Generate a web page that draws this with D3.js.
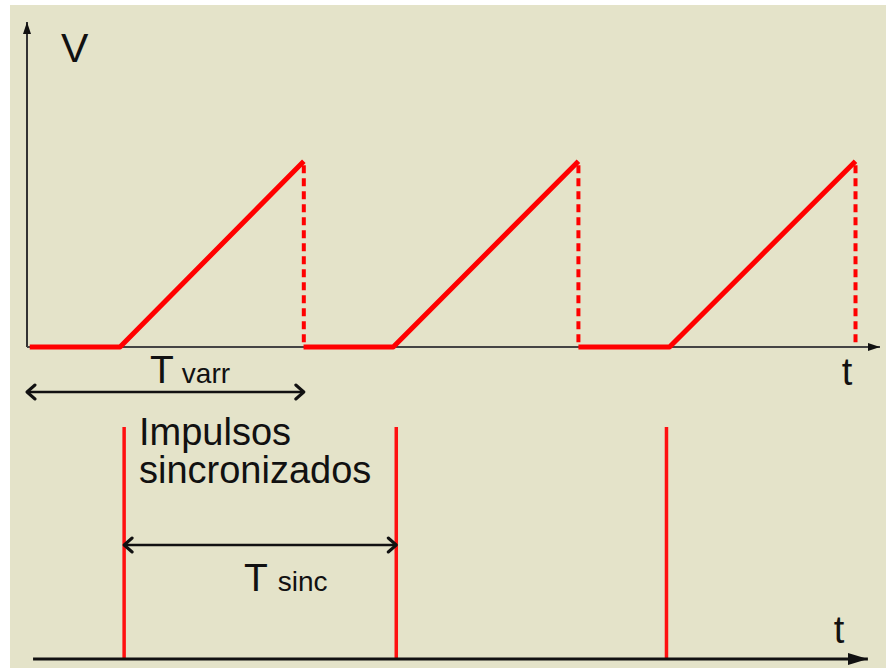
<!doctype html>
<html>

<head>
    <meta charset="UTF-8">
    <title>Diente de sierra</title>
    <script src="https://d3js.org/d3.v7.min.js"></script>
    <style>
        body { margin: 0; background: #fff; }
        text { font-family: "Liberation Sans", Arial, sans-serif; fill: #111; }
    </style>
</head>

<body>
    <script>
        var width = 886;
        var height = 668;

        // time of each sweep (units = one period, roughly)
        var flatStart = [0.01, 1.005, 2.004];
        var rampStart = [0.338, 1.331, 2.335];
        var rampEnd = [1.006, 2.004, 3.011];
        var peakV = 1;
        // sync pulses
        var pulseTimes = [0.353, 1.342, 2.324];

        var x = d3.scaleLinear()
            .domain([0, 3.1])
            .range([27, 880]);

        var yTop = d3.scaleLinear()   // voltage panel
            .domain([0, 1.75])
            .range([347, 22]);

        var yBot = d3.scaleLinear()   // pulse panel
            .domain([0, 1])
            .range([659, 427]);

        var svg = d3.select("body").append("svg")
            .attr("width", width)
            .attr("height", height);

        svg.append("rect")
            .attr("x", 10).attr("y", 5)
            .attr("width", width - 10).attr("height", height - 5)
            .style("fill", "#e4e3c9");

        var defs = svg.append("defs");
        defs.append("marker")
            .attr("id", "tri")
            .attr("viewBox", "0 0 12 10")
            .attr("refX", 12).attr("refY", 5)
            .attr("markerWidth", 12).attr("markerHeight", 10)
            .attr("markerUnits", "userSpaceOnUse")
            .attr("orient", "auto")
            .append("path").attr("d", "M0,1 L12,5 L0,9 Z").style("fill", "#111");
        defs.append("marker")
            .attr("id", "triBig")
            .attr("viewBox", "0 0 20 14")
            .attr("refX", 20).attr("refY", 7)
            .attr("markerWidth", 20).attr("markerHeight", 14)
            .attr("markerUnits", "userSpaceOnUse")
            .attr("orient", "auto")
            .append("path").attr("d", "M0,1 L20,7 L0,13 Z").style("fill", "#111");
        defs.append("marker")
            .attr("id", "chev")
            .attr("viewBox", "-1 -1 12 18")
            .attr("refX", 9).attr("refY", 8)
            .attr("markerWidth", 12).attr("markerHeight", 18)
            .attr("markerUnits", "userSpaceOnUse")
            .attr("orient", "auto-start-reverse")
            .append("path").attr("d", "M1,1 L9,8 L1,15")
            .style("fill", "none").style("stroke", "#111").style("stroke-width", 3)
            .style("stroke-linecap", "round").style("stroke-linejoin", "round");

        // axes of the voltage panel
        svg.append("line")
            .attr("x1", x(0)).attr("y1", yTop(0))
            .attr("x2", x(0)).attr("y2", yTop(1.75))
            .style("stroke", "#333").style("stroke-width", 2)
            .attr("marker-end", "url(#tri)");
        svg.append("line")
            .attr("x1", x(0)).attr("y1", yTop(0))
            .attr("x2", x(3.1)).attr("y2", yTop(0))
            .style("stroke", "#444").style("stroke-width", 2)
            .attr("marker-end", "url(#tri)");

        // sawtooth
        var line = d3.line()
            .x(function (d) { return x(d[0]); })
            .y(function (d) { return yTop(d[1]); });

        var segs = flatStart.map(function (t, i) {
            return [[t, 0], [rampStart[i], 0], [rampEnd[i], peakV]];
        });
        svg.selectAll(".saw").data(segs).enter().append("path")
            .attr("class", "saw")
            .attr("d", line)
            .style("fill", "none").style("stroke", "#ff0000").style("stroke-width", 5)
            .style("stroke-linejoin", "round");

        svg.selectAll(".fly").data(rampEnd).enter().append("line")
            .attr("class", "fly")
            .attr("x1", function (d) { return x(d); }).attr("y1", yTop(peakV) + 4)
            .attr("x2", function (d) { return x(d); }).attr("y2", yTop(0))
            .style("stroke", "#ff0000").style("stroke-width", 4)
            .style("stroke-dasharray", "8,5");

        // pulse panel
        svg.selectAll(".pulse").data(pulseTimes).enter().append("line")
            .attr("class", "pulse")
            .attr("x1", function (d) { return x(d); }).attr("y1", yBot(1))
            .attr("x2", function (d) { return x(d); }).attr("y2", yBot(0))
            .style("stroke", "#ff1010").style("stroke-width", 3.5);

        svg.append("line")
            .attr("x1", x(0.022)).attr("y1", yBot(0))
            .attr("x2", x(3.056)).attr("y2", yBot(0))
            .style("stroke", "#111").style("stroke-width", 3)
            .attr("marker-end", "url(#triBig)");

        // period arrows
        svg.append("line")
            .attr("x1", x(0)).attr("y1", 392)
            .attr("x2", x(rampEnd[0])).attr("y2", 392)
            .style("stroke", "#111").style("stroke-width", 2.5)
            .attr("marker-start", "url(#chev)").attr("marker-end", "url(#chev)");
        svg.append("line")
            .attr("x1", x(pulseTimes[0])).attr("y1", 545)
            .attr("x2", x(pulseTimes[1])).attr("y2", 545)
            .style("stroke", "#111").style("stroke-width", 2.5)
            .attr("marker-start", "url(#chev)").attr("marker-end", "url(#chev)");

        // labels
        svg.append("text").attr("x", 61).attr("y", 62)
            .style("font-size", "41px").text("V");
        svg.append("text").attr("x", 847).attr("y", 385).attr("text-anchor", "middle")
            .style("font-size", "38px").text("t");
        svg.append("text").attr("x", 839).attr("y", 643).attr("text-anchor", "middle")
            .style("font-size", "38px").text("t");

        var tv = svg.append("text").attr("x", 150).attr("y", 383);
        tv.append("tspan").style("font-size", "39px").text("T");
        tv.append("tspan").attr("dx", 8).style("font-size", "28px").text("varr");

        var ts = svg.append("text").attr("x", 244).attr("y", 591);
        ts.append("tspan").style("font-size", "39px").text("T");
        ts.append("tspan").attr("dx", 10).style("font-size", "28px").text("sinc");

        svg.append("text").attr("x", 139).attr("y", 445)
            .style("font-size", "38px").text("Impulsos");
        svg.append("text").attr("x", 139).attr("y", 483)
            .style("font-size", "38px").text("sincronizados");
    </script>
</body>

</html>
